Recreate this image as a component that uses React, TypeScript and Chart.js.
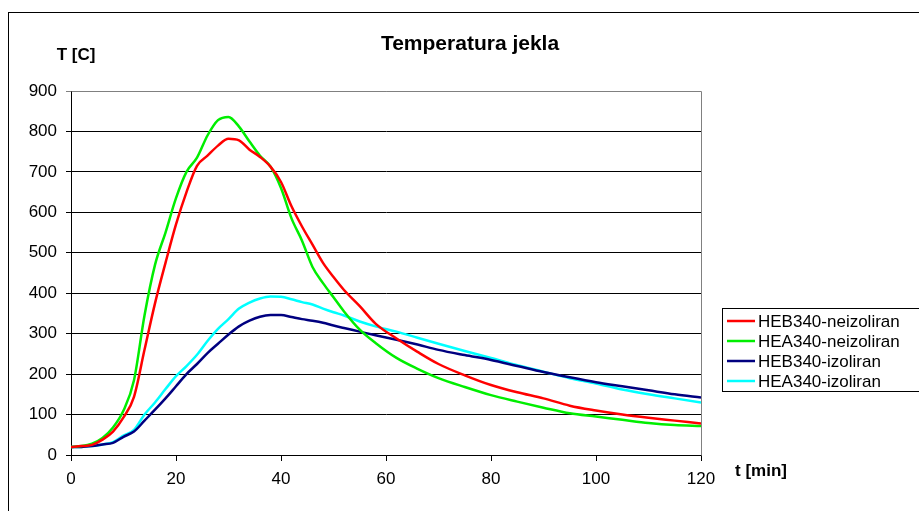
import React, { useEffect, useRef } from "react";
import { Chart, registerables } from "chart.js";

Chart.register(...registerables);

const TITLE = "Temperatura jekla";
const Y_TITLE = "T [C]";
const X_TITLE = "t [min]";

const TIME = [0, 2, 4, 6, 8, 10, 12, 14, 16, 18, 20, 22, 24, 26, 28, 30, 32, 34, 36, 38, 40, 42, 44, 46, 48, 50, 52, 55, 58, 62, 66, 70, 75, 80, 85, 90, 95, 100, 105, 110, 115, 120];

const HEB340_NEIZ = [20, 22, 25, 38, 58, 93, 144, 260, 375, 475, 570, 650, 715, 740, 765, 782, 778, 755, 737, 713, 675, 615, 565, 520, 475, 440, 408, 368, 325, 288, 255, 225, 197, 173, 155, 140, 122, 110, 100, 92, 85, 78];
const HEA340_NEIZ = [20, 22, 28, 42, 68, 110, 185, 345, 470, 550, 635, 700, 735, 790, 828, 836, 812, 775, 740, 713, 660, 585, 530, 465, 425, 390, 355, 310, 277, 240, 213, 190, 168, 148, 132, 117, 103, 95, 87, 79, 74, 72];
const HEB340_IZ = [20, 20, 22, 26, 30, 45, 58, 85, 112, 140, 170, 200, 225, 252, 275, 298, 318, 332, 342, 346, 346, 341, 336, 332, 327, 320, 314, 305, 296, 285, 273, 260, 247, 235, 220, 205, 192, 180, 170, 160, 150, 142];
const HEA340_IZ = [20, 20, 22, 26, 32, 48, 62, 100, 130, 163, 195, 220, 248, 282, 312, 336, 362, 377, 387, 392, 391, 385, 378, 372, 362, 353, 345, 330, 318, 305, 290, 275, 257, 240, 222, 206, 190, 177, 162, 150, 140, 130];

const SERIES_NAMES = ["HEB340-neizoliran", "HEA340-neizoliran", "HEB340-izoliran", "HEA340-izoliran"];
const SERIES_VALUES = [HEB340_NEIZ, HEA340_NEIZ, HEB340_IZ, HEA340_IZ];
const SERIES_COLORS = ["#ff0000", "#00ee00", "#000080", "#00ffff"];

const FONT = "'Liberation Sans', Arial, sans-serif";

const decorPlugin = {
  id: "decor",
  afterDraw(chart: any) {
    const ctx = chart.ctx as CanvasRenderingContext2D;
    const area = chart.chartArea;
    ctx.save();
    // plot area top/right border (gray)
    ctx.strokeStyle = "#808080";
    ctx.lineWidth = 1;
    ctx.beginPath();
    ctx.moveTo(Math.round(area.left) + 0.5, Math.round(area.top) + 0.5);
    ctx.lineTo(Math.round(area.right) + 0.5, Math.round(area.top) + 0.5);
    ctx.lineTo(Math.round(area.right) + 0.5, Math.round(area.bottom) + 0.5);
    ctx.stroke();

    // outer border
    ctx.strokeStyle = "#000000";
    ctx.lineWidth = 1;
    ctx.strokeRect(8.5, 12.5, 1000, 600);

    ctx.fillStyle = "#000";
    ctx.textBaseline = "middle";
    // title
    ctx.font = `bold 21px ${FONT}`;
    ctx.textAlign = "center";
    ctx.fillText(TITLE, 470, 44);
    // axis titles
    ctx.font = `bold 17px ${FONT}`;
    ctx.fillText(Y_TITLE, 76, 55);
    ctx.textAlign = "left";
    ctx.fillText(X_TITLE, 735, 471);

    // legend
    const lx = 722, ly = 308, lw = 200, lh = 83;
    ctx.fillStyle = "#fff";
    ctx.fillRect(lx, ly, lw, lh);
    ctx.strokeStyle = "#000";
    ctx.lineWidth = 1;
    ctx.strokeRect(lx + 0.5, ly + 0.5, lw, lh);
    ctx.font = `17px ${FONT}`;
    ctx.textAlign = "left";
    SERIES_NAMES.forEach((name, i) => {
      const y = ly + 13 + i * 20;
      ctx.strokeStyle = SERIES_COLORS[i];
      ctx.lineWidth = 2.5;
      ctx.beginPath();
      ctx.moveTo(727, y);
      ctx.lineTo(755, y);
      ctx.stroke();
      ctx.fillStyle = "#000";
      ctx.fillText(name, 758, y + 1);
    });
    ctx.restore();
  },
};

export default function App() {
  const canvasRef = useRef<HTMLCanvasElement | null>(null);

  useEffect(() => {
    document.body.style.margin = "0";
    const canvas = canvasRef.current;
    if (!canvas) return;
    const chart = new Chart(canvas, {
      type: "line",
      data: {
        datasets: SERIES_NAMES.map((name, i) => ({
          label: name,
          data: TIME.map((t, j) => ({ x: t, y: SERIES_VALUES[i][j] })),
          borderColor: SERIES_COLORS[i],
          backgroundColor: SERIES_COLORS[i],
          borderWidth: 2.5,
          pointRadius: 0,
          cubicInterpolationMode: "monotone" as const,
          fill: false,
        })),
      },
      options: {
        responsive: false,
        animation: false,
        devicePixelRatio: 1,
        layout: { padding: { left: 0, top: 91, right: 218, bottom: 0 } },
        plugins: {
          legend: { display: false },
          title: { display: false },
          tooltip: { enabled: false },
        },
        scales: {
          x: {
            type: "linear",
            min: 0,
            max: 120,
            ticks: {
              stepSize: 20,
              color: "#000",
              font: { family: FONT, size: 17 },
              padding: 8,
              maxRotation: 0,
            },
            grid: { drawOnChartArea: false, drawTicks: true, tickLength: 6, color: "#000" },
            border: { display: true, color: "#000", width: 1 },
            afterFit(scale: any) {
              scale.height = 56;
            },
          },
          y: {
            type: "linear",
            min: 0,
            max: 900,
            ticks: {
              stepSize: 100,
              color: "#000",
              font: { family: FONT, size: 17 },
              padding: 9,
            },
            grid: {
              drawOnChartArea: true,
              drawTicks: true,
              tickLength: 5,
              color: (c: any) => (c.tick && c.tick.value === 900 ? "#808080" : "#000"),
            },
            border: { display: true, color: "#000", width: 1 },
            afterFit(scale: any) {
              scale.width = 71;
            },
          },
        },
      },
      plugins: [decorPlugin],
    });
    return () => chart.destroy();
  }, []);

  return (
    <div style={{ width: 919, height: 511, position: "relative" }}>
      <canvas ref={canvasRef} width={919} height={511} style={{ display: "block" }} />
    </div>
  );
}
